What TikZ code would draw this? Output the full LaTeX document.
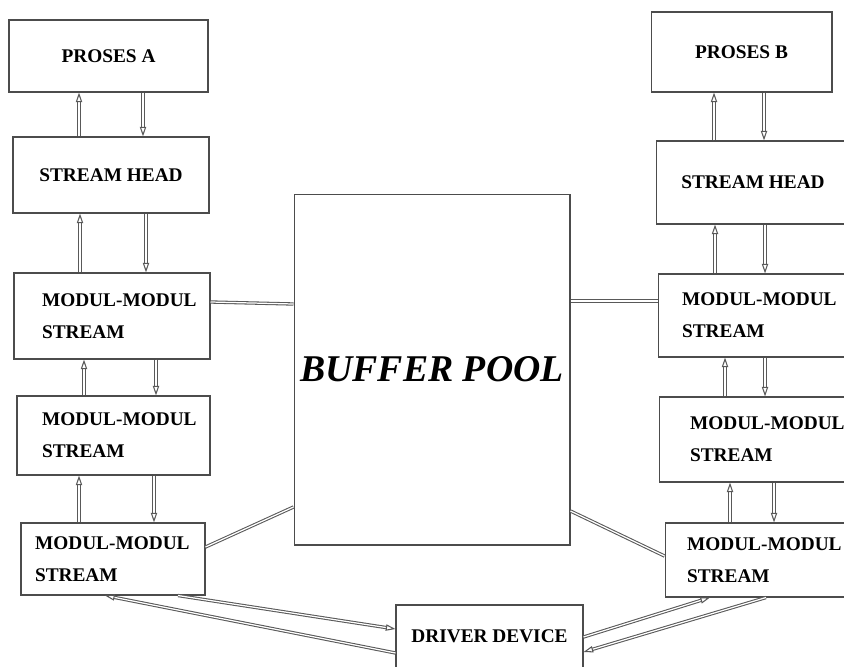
\documentclass[tikz,border=0pt]{standalone}
\usepackage{fontspec}
\setmainfont{Liberation Serif}
\usetikzlibrary{arrows.meta}
\tikzset{gbox/.style={
    rectangle,
    draw=black!70,
    line width=0.6pt,
    font=\fontsize{11}{18}\selectfont\bfseries,
    align=center
  },
  mbox/.style={gbox,align=left},
  bigbox/.style={gbox,font=\fontsize{21.5}{26}\selectfont\bfseries\itshape},
  link/.style={draw=black!65,double=white,double distance=0.7pt,line width=0.6pt},
  flow/.style={link,-{Triangle[open,length=5.5pt,width=3.6pt]}},
}

\begin{document}
\begin{tikzpicture}[x=0.02cm,y=-0.02cm]
  \useasboundingbox (0,0) rectangle (844,666);
  % left column
  \node [gbox,minimum width=3.98cm,minimum height=1.44cm] (pa) at (108.5,56) {PROSES A};
  \node [gbox,minimum width=3.92cm,minimum height=1.52cm] (sha) at (111,175) {STREAM HEAD};
  \node [mbox,text width=2.8cm,inner xsep=0.56cm,minimum height=1.72cm] (ma1) at (112,316)
    {\mbox{MODUL-MODUL}\\ STREAM};
  \node [mbox,text width=2.86cm,inner xsep=0.5cm,minimum height=1.58cm] (ma2) at (113.5,435.5)
    {\mbox{MODUL-MODUL}\\ STREAM};
  \node [mbox,text width=3.12cm,inner xsep=0.28cm,minimum height=1.44cm] (ma3) at (113,559)
    {\mbox{MODUL-MODUL}\\ STREAM};
  % middle
  \node [bigbox,minimum width=5.52cm,minimum height=7.02cm] (buf) at (432,369.5) {BUFFER POOL};
  \node [gbox,minimum width=3.74cm,minimum height=1.26cm] (drv) at (489.5,636.5) {DRIVER DEVICE};
  % right column
  \node [gbox,minimum width=3.62cm,minimum height=1.6cm] (pb) at (741.5,52) {PROSES B};
  \node [gbox,minimum width=3.88cm,minimum height=1.66cm] (shb) at (753,182.5) {STREAM HEAD};
  \node [mbox,text width=2.88cm,inner xsep=0.48cm,minimum height=1.66cm] (mb1) at (754,315.5)
    {\mbox{MODUL-MODUL}\\ STREAM};
  \node [mbox,text width=2.58cm,inner xsep=0.62cm,minimum height=1.7cm] (mb2) at (754.5,439.5)
    {\mbox{MODUL-MODUL}\\ STREAM};
  \node [mbox,text width=2.82cm,inner xsep=0.44cm,minimum height=1.48cm] (mb3) at (757.5,560)
    {\mbox{MODUL-MODUL}\\ STREAM};

  \draw[flow] (sha.north -| 79,0) -- (pa.south -| 79,0);
  \draw[flow] (pa.south -| 143,0) -- (sha.north -| 143,0);
  \draw[flow] (ma1.north -| 80,0) -- (sha.south -| 80,0);
  \draw[flow] (sha.south -| 146,0) -- (ma1.north -| 146,0);
  \draw[flow] (ma2.north -| 84,0) -- (ma1.south -| 84,0);
  \draw[flow] (ma1.south -| 156,0) -- (ma2.north -| 156,0);
  \draw[flow] (ma3.north -| 79,0) -- (ma2.south -| 79,0);
  \draw[flow] (ma2.south -| 154,0) -- (ma3.north -| 154,0);
  \draw[flow] (ma3.south -| 178,0) -- (drv.west |- 0,629);
  \draw[flow] (drv.west |- 0,653) -- (ma3.south -| 105,0);

  \draw[flow] (shb.north -| 714,0) -- (pb.south -| 714,0);
  \draw[flow] (pb.south -| 764,0) -- (shb.north -| 764,0);
  \draw[flow] (mb1.north -| 715,0) -- (shb.south -| 715,0);
  \draw[flow] (shb.south -| 765,0) -- (mb1.north -| 765,0);
  \draw[flow] (mb2.north -| 725,0) -- (mb1.south -| 725,0);
  \draw[flow] (mb1.south -| 765,0) -- (mb2.north -| 765,0);
  \draw[flow] (mb3.north -| 730,0) -- (mb2.south -| 730,0);
  \draw[flow] (mb2.south -| 774,0) -- (mb3.north -| 774,0);
  \draw[flow] (drv.east |- 0,637) -- (mb3.south -| 710,0);
  \draw[flow] (mb3.south -| 766,0) -- (drv.east |- 0,652);

  \draw[link] (ma1.east |- 0,302) -- (buf.west |- 0,304);
  \draw[link] (buf.east |- 0,301) -- (mb1.west |- 0,301);
  \draw[link] (ma3.east |- 0,547) -- (buf.west |- 0,507);
  \draw[link] (buf.east |- 0,511) -- (mb3.west |- 0,556);
\end{tikzpicture}
\end{document}
